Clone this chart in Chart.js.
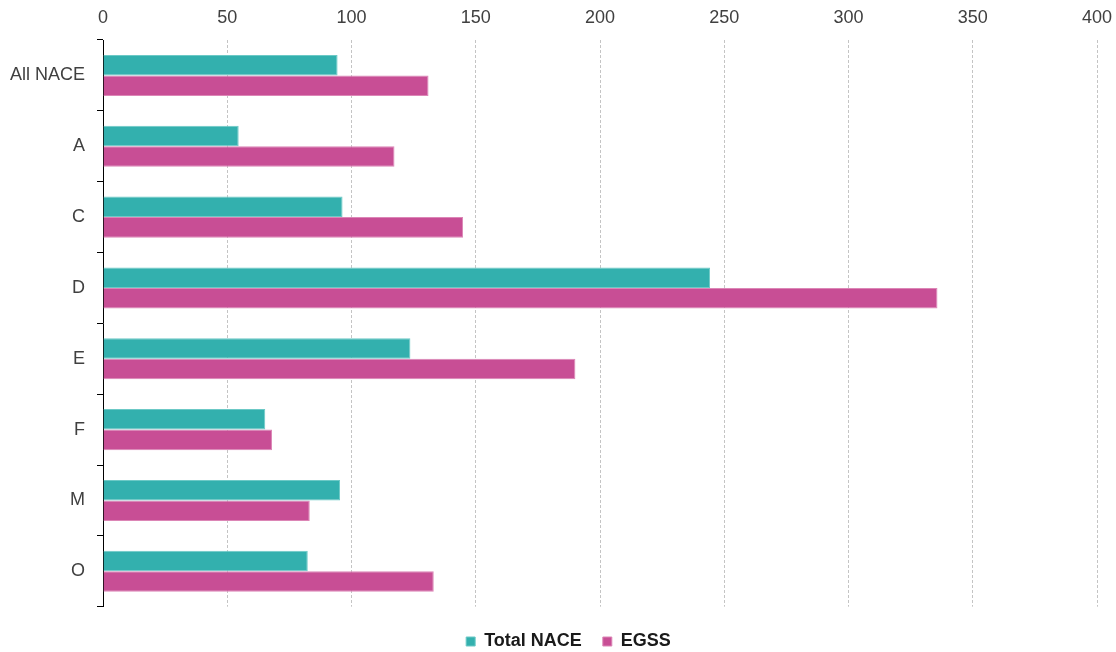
<!DOCTYPE html>
<html>
<head>
<meta charset="utf-8">
<script src="https://cdn.jsdelivr.net/npm/chart.js@4"></script>
<style>
  html, body { margin: 0; padding: 0; background: #ffffff; }
  #wrap { width: 1116px; height: 652px; position: relative; }
</style>
</head>
<body>
<div id="wrap"><canvas id="c" width="1116" height="652"></canvas></div>
<script>
const categories = ["All NACE", "A", "C", "D", "E", "F", "M", "O"];
const totalNace = [94.4, 54.6, 96.4, 244.3, 123.7, 65.3, 95.4, 82.4];
const egss = [131.0, 117.3, 144.9, 335.8, 190.1, 68.0, 83.2, 133.1];
const seriesNames = ["Total NACE", "EGSS"];
const xTickStep = 50;
const xMin = 0;
const xMax = 400;

const shiftLegend = {
  id: 'shiftLegend',
  afterLayout(chart) {
    const lg = chart.legend;
    if (lg) { lg.left += 20; lg.right += 20; }
  }
};

new Chart(document.getElementById('c'), {
  type: 'bar',
  data: {
    labels: categories,
    datasets: [
      {
        label: seriesNames[0],
        data: totalNace,
        backgroundColor: '#33B0AE',
        borderColor: '#6cc9c6',
        borderWidth: 1,
        categoryPercentage: 0.58,
        barPercentage: 1.0
      },
      {
        label: seriesNames[1],
        data: egss,
        backgroundColor: '#C84E95',
        borderColor: '#dc86b6',
        borderWidth: 1,
        categoryPercentage: 0.58,
        barPercentage: 1.0
      }
    ]
  },
  plugins: [shiftLegend],
  options: {
    indexAxis: 'y',
    responsive: false,
    animation: false,
    devicePixelRatio: 1,
    layout: { padding: { left: 0, right: 19, top: 0, bottom: -8.5 } },
    plugins: {
      tooltip: { enabled: false },
      legend: {
        position: 'bottom',
        align: 'center',
        title: { display: true, text: '', padding: 0, font: { size: 4 } },
        labels: {
          boxWidth: 9,
          boxHeight: 9,
          padding: 21,
          color: '#1a1a1a',
          font: { family: 'Liberation Sans, Arial, sans-serif', size: 18, weight: 'bold' }
        }
      }
    },
    scales: {
      x: {
        position: 'top',
        min: xMin,
        max: xMax,
        ticks: {
          stepSize: xTickStep,
          padding: 11,
          color: '#404040',
          font: { family: 'Liberation Sans, Arial, sans-serif', size: 18 }
        },
        grid: {
          color: '#c4c4c4',
          lineWidth: 1,
          drawTicks: false
        },
        border: { display: false, dash: [3, 2] },
        afterFit: (s) => { s.height = 40; s.paddingLeft = 0; s.paddingRight = 0; }
      },
      y: {
        position: 'left',
        ticks: {
          padding: 12,
          color: '#404040',
          font: { family: 'Liberation Sans, Arial, sans-serif', size: 18 }
        },
        grid: {
          offset: true,
          drawOnChartArea: false,
          drawTicks: true,
          tickLength: 6,
          color: '#000000',
          lineWidth: 1
        },
        border: { display: true, color: '#000000', width: 1 },
        afterFit: (s) => { s.width = 103; }
      }
    }
  }
});
</script>
</body>
</html>
